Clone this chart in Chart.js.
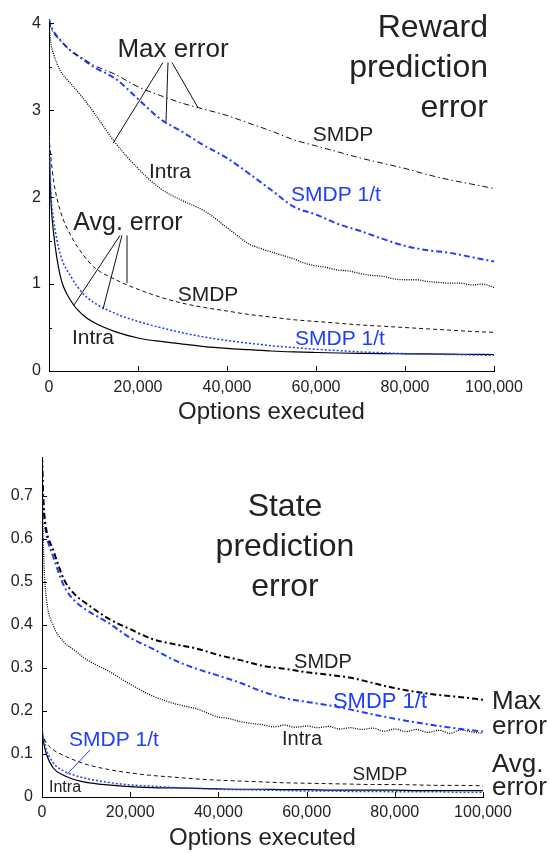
<!DOCTYPE html>
<html>
<head>
<meta charset="utf-8">
<script src="https://cdn.jsdelivr.net/npm/chart.js@4.4.0/dist/chart.umd.min.js"></script>
<style>
  body { margin: 0; background: #fff; }
  #wrap { position: relative; width: 549px; height: 853px; }
  canvas { position: absolute; left: 0; }
</style>
</head>
<body>
<div id="wrap">
  <canvas id="rewardChart" width="549" height="430" style="top:0"></canvas>
  <canvas id="stateChart" width="549" height="423" style="top:430px"></canvas>
</div>
<script>
// x positions (options executed) shared by most curves
const steps = [0, 250, 500, 1000, 2500, 5000, 7500, 10000, 15000, 20000, 25000, 30000, 35000,
  40000, 45000, 50000, 55000, 60000, 65000, 70000, 75000, 80000, 85000, 90000, 95000, 100000];
// finer x positions for the noisy "Intra" max-error curves
const intraSteps = [0, 250, 500, 1000, 2500, 5000, 7500, 10000, 15000, 20000, 25000, 30000, 35000,
  40000, 42500, 45000, 47500, 50000, 52500, 55000, 57500, 60000, 62500, 65000, 67500, 70000,
  72500, 75000, 77500, 80000, 82500, 85000, 87500, 90000, 92500, 95000, 97500, 100000];
const xTicks = [0, 20000, 40000, 60000, 80000, 100000];
const rewardYTicks = [0, 1, 2, 3, 4];
const stateYTicks = [0, 0.1, 0.2, 0.3, 0.4, 0.5, 0.6, 0.7];

// Reward prediction error
const rewardMaxSmdp = [4.02, 3.98, 3.94, 3.89, 3.80, 3.68, 3.60, 3.52, 3.41, 3.27, 3.17, 3.08, 3.01,
  2.94, 2.85, 2.76, 2.66, 2.59, 2.52, 2.45, 2.39, 2.33, 2.26, 2.20, 2.15, 2.10];
const rewardMaxSmdp1t = [4.05, 4.00, 3.96, 3.91, 3.81, 3.68, 3.59, 3.50, 3.36, 3.13, 2.90, 2.75, 2.59,
  2.45, 2.27, 2.08, 1.89, 1.80, 1.69, 1.61, 1.52, 1.44, 1.39, 1.36, 1.31, 1.26];
const rewardMaxIntra = [4.0, 3.85, 3.75, 3.65, 3.46, 3.30, 3.15, 2.98, 2.62, 2.33, 2.10, 1.96, 1.84,
  1.65, 1.55, 1.46, 1.41, 1.37, 1.33, 1.29, 1.24, 1.21, 1.19, 1.16, 1.15, 1.12,
  1.10, 1.09, 1.06, 1.05, 1.05, 1.03, 1.02, 1.01, 1.01, 0.99, 1.00, 0.96];
const rewardAvgSmdp = [2.7, 2.55, 2.42, 2.2, 1.85, 1.55, 1.35, 1.2, 1.05, 0.94, 0.85, 0.78, 0.73,
  0.69, 0.65, 0.62, 0.59, 0.57, 0.55, 0.53, 0.515, 0.50, 0.485, 0.47, 0.455, 0.445];
const rewardAvgSmdp1t = [2.7, 2.3, 2.0, 1.75, 1.35, 1.08, 0.9, 0.79, 0.66, 0.57, 0.5, 0.44, 0.39,
  0.35, 0.32, 0.29, 0.27, 0.25, 0.235, 0.22, 0.21, 0.20, 0.195, 0.19, 0.185, 0.18];
const rewardAvgIntra = [2.7, 2.2, 1.9, 1.6, 1.1, 0.8, 0.65, 0.56, 0.45, 0.38, 0.34, 0.31, 0.28,
  0.26, 0.245, 0.23, 0.22, 0.213, 0.207, 0.203, 0.2, 0.198, 0.196, 0.194, 0.192, 0.19];

// State prediction error
const stateMaxSmdp = [0.79, 0.70, 0.66, 0.62, 0.575, 0.505, 0.47, 0.45, 0.415, 0.39, 0.367, 0.355, 0.345,
  0.33, 0.318, 0.305, 0.298, 0.29, 0.284, 0.277, 0.265, 0.253, 0.244, 0.237, 0.232, 0.226];
const stateMaxSmdp1t = [0.79, 0.70, 0.65, 0.61, 0.56, 0.49, 0.455, 0.435, 0.405, 0.37, 0.345, 0.318, 0.298,
  0.282, 0.265, 0.245, 0.23, 0.221, 0.213, 0.203, 0.192, 0.182, 0.173, 0.165, 0.158, 0.152];
const stateMaxIntra = [0.79, 0.62, 0.53, 0.46, 0.40, 0.36, 0.34, 0.32, 0.293, 0.262, 0.235, 0.217, 0.205,
  0.186, 0.182, 0.175, 0.171, 0.168, 0.163, 0.167, 0.162, 0.165, 0.161, 0.164, 0.158, 0.161,
  0.157, 0.16, 0.153, 0.158, 0.152, 0.157, 0.15, 0.155, 0.148, 0.156, 0.151, 0.148];
const stateAvgSmdp = [0.15, 0.14, 0.135, 0.125, 0.11, 0.096, 0.085, 0.076, 0.064, 0.056, 0.05, 0.046, 0.042,
  0.039, 0.037, 0.035, 0.033, 0.032, 0.031, 0.03, 0.029, 0.029, 0.028, 0.027, 0.027, 0.026];
const stateAvgSmdp1t = [0.16, 0.14, 0.13, 0.11, 0.08, 0.06, 0.05, 0.043, 0.034, 0.028, 0.025, 0.022, 0.02,
  0.018, 0.017, 0.016, 0.015, 0.014, 0.014, 0.013, 0.013, 0.012, 0.012, 0.012, 0.011, 0.011];
const stateAvgIntra = [0.16, 0.135, 0.12, 0.1, 0.068, 0.05, 0.04, 0.034, 0.028, 0.024, 0.022, 0.021, 0.02,
  0.019, 0.018, 0.018, 0.017, 0.017, 0.016, 0.016, 0.016, 0.016, 0.015, 0.015, 0.015, 0.015];

// Text labels and leader lines, placed in data units
const rewardNotes = [
  { text: 'Reward', x: 98650, y: 3.94, size: 32, align: 'right' },
  { text: 'prediction', x: 98650, y: 3.48, size: 32, align: 'right' },
  { text: 'error', x: 98650, y: 3.02, size: 32, align: 'right' },
  { text: 'Max error', x: 27870, y: 3.69, size: 26 },
  { text: 'SMDP', x: 66070, y: 2.71, size: 21 },
  { text: 'Intra', x: 27190, y: 2.29, size: 21 },
  { text: 'SMDP 1/t', x: 64490, y: 2.02, size: 21, blue: true },
  { text: 'Avg. error', x: 17750, y: 1.70, size: 25 },
  { text: 'SMDP', x: 35730, y: 0.87, size: 21 },
  { text: 'Intra', x: 9890, y: 0.38, size: 21 },
  { text: 'SMDP 1/t', x: 65390, y: 0.37, size: 21, blue: true }
];
const rewardLeaders = [
  [25620, 3.55, 14380, 2.62], [26740, 3.55, 26290, 2.87], [27640, 3.55, 33480, 3.03],
  [15960, 1.56, 5620, 0.76], [16400, 1.56, 12130, 0.71], [17530, 1.56, 17530, 1.01]
];
const stateNotes = [
  { text: 'State', x: 55100, y: 0.674, size: 32 },
  { text: 'prediction', x: 55100, y: 0.581, size: 32 },
  { text: 'error', x: 55100, y: 0.488, size: 32 },
  { text: 'SMDP', x: 63720, y: 0.312, size: 20 },
  { text: 'SMDP 1/t', x: 76640, y: 0.221, size: 22, blue: true },
  { text: 'Intra', x: 58960, y: 0.133, size: 20 },
  { text: 'Max', x: 102040, y: 0.221, size: 26, align: 'left' },
  { text: 'error', x: 102040, y: 0.163, size: 26, align: 'left' },
  { text: 'Avg.', x: 102040, y: 0.074, size: 26, align: 'left' },
  { text: 'error', x: 102040, y: 0.021, size: 26, align: 'left' },
  { text: 'SMDP', x: 76640, y: 0.051, size: 19 },
  { text: 'SMDP 1/t', x: 16330, y: 0.133, size: 21, blue: true },
  { text: 'Intra', x: 5220, y: 0.023, size: 16 }
];
const stateLeaders = [[10880, 0.109, 5670, 0.053, true]];

const BLUE = '#1f3dff';
const INK = '#222';
const FONT = '"Liberation Sans", Arial, sans-serif';

Chart.defaults.font.family = FONT;
Chart.defaults.color = INK;

function pts(xs, ys) {
  return xs.map((x, i) => ({ x: x, y: ys[i] }));
}

function line(data, color, width, dash) {
  return {
    data: data,
    borderColor: color,
    borderWidth: width,
    borderDash: dash,
    pointRadius: 0,
    fill: false,
    cubicInterpolationMode: 'monotone'
  };
}

// inward tick marks + labels + leader lines
const overlay = {
  id: 'overlay',
  afterDatasetsDraw(chart, args, opts) {
    const ctx = chart.ctx;
    const xs = chart.scales.x, ys = chart.scales.y;
    const area = chart.chartArea;
    ctx.save();
    ctx.strokeStyle = '#000';
    ctx.lineWidth = 1;
    ctx.beginPath();
    xs.ticks.forEach(t => {
      const px = Math.round(xs.getPixelForValue(t.value)) + 0.5;
      ctx.moveTo(px, area.bottom);
      ctx.lineTo(px, area.bottom - 5);
    });
    ys.ticks.forEach(t => {
      const py = Math.round(ys.getPixelForValue(t.value)) + 0.5;
      ctx.moveTo(area.left, py);
      ctx.lineTo(area.left + 5, py);
    });
    if (opts.minorY) {
      for (let v = opts.minorY; v < ys.max; v += opts.minorY * 2) {
        const py = Math.round(ys.getPixelForValue(v)) + 0.5;
        ctx.moveTo(area.left, py);
        ctx.lineTo(area.left + 3, py);
      }
    }
    ctx.stroke();

    (opts.leaders || []).forEach(l => {
      ctx.strokeStyle = l[4] ? BLUE : '#111';
      ctx.lineWidth = 1;
      ctx.beginPath();
      ctx.moveTo(xs.getPixelForValue(l[0]), ys.getPixelForValue(l[1]));
      ctx.lineTo(xs.getPixelForValue(l[2]), ys.getPixelForValue(l[3]));
      ctx.stroke();
    });

    ctx.textBaseline = 'middle';
    (opts.notes || []).forEach(n => {
      ctx.font = n.size + 'px ' + FONT;
      ctx.fillStyle = n.blue ? BLUE : INK;
      ctx.textAlign = n.align || 'center';
      ctx.fillText(n.text, xs.getPixelForValue(n.x), ys.getPixelForValue(n.y));
    });
    ctx.restore();
  }
};

function xAxis(height, titlePad, tickPad) {
  return {
    type: 'linear',
    min: 0,
    max: 100000,
    afterBuildTicks: s => { s.ticks = xTicks.map(v => ({ value: v })); },
    afterFit: s => { s.height = height; },
    ticks: {
      padding: tickPad,
      maxRotation: 0,
      autoSkip: false,
      font: { size: 16 },
      color: INK,
      callback: v => v.toLocaleString('en-US')
    },
    grid: { display: false, drawTicks: false },
    border: { display: true, color: '#000', width: 1 },
    title: {
      display: true,
      text: 'Options executed',
      font: { size: 24 },
      color: INK,
      padding: { top: 0, bottom: titlePad }
    }
  };
}

function yAxis(max, tickValues, width, pad) {
  return {
    type: 'linear',
    min: 0,
    max: max,
    afterBuildTicks: s => { s.ticks = tickValues.map(v => ({ value: v })); },
    afterFit: s => { s.width = width; },
    ticks: { padding: pad, font: { size: 16 }, color: INK },
    grid: { display: false, drawTicks: false },
    border: { display: true, color: '#000', width: 1 }
  };
}

function initCharts() {
  // Reward prediction error (top)
  new Chart(document.getElementById('rewardChart'), {
    type: 'line',
    data: {
      datasets: [
        line(pts(steps, rewardMaxSmdp), '#111', 1, [6, 3, 1.5, 3]),
        line(pts(steps, rewardMaxSmdp1t), BLUE, 2, [6, 3, 2, 3]),
        line(pts(intraSteps, rewardMaxIntra), '#000', 1.3, [1, 1.3]),
        line(pts(steps, rewardAvgSmdp), '#111', 1, [4, 3]),
        line(pts(steps, rewardAvgSmdp1t), BLUE, 1.5, [2, 2]),
        line(pts(steps, rewardAvgIntra), '#000', 1.2, [])
      ]
    },
    options: {
      responsive: false,
      animation: false,
      layout: { padding: { top: 19, right: 55, bottom: 0, left: 0 } },
      plugins: {
        legend: { display: false },
        tooltip: { enabled: false },
        overlay: { minorY: 0.5, notes: rewardNotes, leaders: rewardLeaders }
      },
      scales: {
        x: xAxis(59, 3, 7),
        y: yAxis(4.05, rewardYTicks, 49, 8)
      }
    },
    plugins: [overlay]
  });

  // State prediction error (bottom)
  new Chart(document.getElementById('stateChart'), {
    type: 'line',
    data: {
      datasets: [
        line(pts(steps, stateMaxSmdp), '#000', 2, [6, 3, 2, 3]),
        line(pts(steps, stateMaxSmdp1t), BLUE, 2, [6, 3, 2, 3]),
        line(pts(intraSteps, stateMaxIntra), '#000', 1.3, [1, 1.3]),
        line(pts(steps, stateAvgSmdp), '#111', 1, [4, 3]),
        line(pts(steps, stateAvgSmdp1t), BLUE, 1.5, [2, 2]),
        line(pts(steps, stateAvgIntra), '#000', 1.2, [])
      ]
    },
    options: {
      responsive: false,
      animation: false,
      layout: { padding: { top: 27, right: 66, bottom: 0, left: 0 } },
      plugins: {
        legend: { display: false },
        tooltip: { enabled: false },
        overlay: { notes: stateNotes, leaders: stateLeaders }
      },
      scales: {
        x: xAxis(56, 0, 6),
        y: yAxis(0.79, stateYTicks, 42, 9)
      }
    },
    plugins: [overlay]
  });
}

document.addEventListener('DOMContentLoaded', function() {
  initCharts();
});
</script>
</body>
</html>
